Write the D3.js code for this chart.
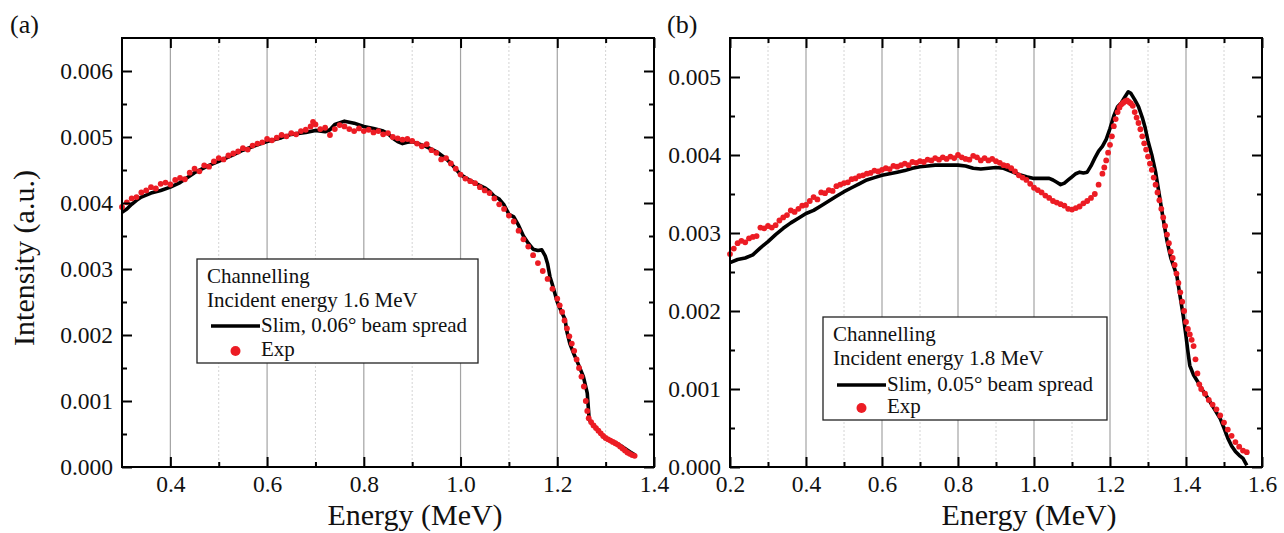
<!DOCTYPE html>
<html>
<head>
<meta charset="utf-8">
<script src="https://cdn.jsdelivr.net/npm/d3@7"></script>
<style>
    body { margin: 0; background: #fff; }
    #chart { width: 1284px; height: 533px; }
    svg text { font-family: "Liberation Serif", "Times New Roman", serif !important; fill: #111; }
</style>
</head>
<body>
<div id="chart"></div>
<script>

// ---- data: [energy (MeV), intensity (a.u.)] ----

// (a) Incident energy 1.6 MeV
const simA = [
    [0.30,0.00386],[0.31,0.00391],[0.32,0.00398],[0.33,0.00404],[0.34,0.00409],[0.36,0.00415],[0.38,0.00419],
    [0.40,0.00424],[0.42,0.00431],[0.45,0.00446],[0.48,0.00457],[0.50,0.00463],[0.53,0.00473],[0.55,0.00480],
    [0.58,0.00488],[0.60,0.00493],[0.63,0.00499],[0.65,0.00504],[0.68,0.00507],[0.70,0.00510],[0.72,0.00508],
    [0.73,0.00511],[0.74,0.00519],[0.76,0.00524],[0.78,0.00521],[0.80,0.00516],[0.82,0.00513],[0.84,0.00509],
    [0.85,0.00505],[0.86,0.00498],[0.87,0.00493],[0.88,0.00490],[0.89,0.00492],[0.90,0.00493],[0.92,0.00488],
    [0.93,0.00485],[0.95,0.00478],[0.97,0.00467],[0.98,0.00460],[1.00,0.00443],[1.02,0.00434],[1.03,0.00430],
    [1.05,0.00423],[1.06,0.00418],[1.07,0.00410],[1.08,0.00406],[1.09,0.00397],[1.10,0.00383],[1.11,0.00379],
    [1.12,0.00366],[1.13,0.00350],[1.14,0.00339],[1.15,0.00330],[1.16,0.00328],[1.168,0.00329],[1.175,0.00320],
    [1.18,0.00308],[1.185,0.00288],[1.19,0.00276],[1.20,0.00250],[1.21,0.00233],[1.216,0.00224],[1.22,0.00205],
    [1.226,0.00187],[1.235,0.00170],[1.24,0.00162],[1.254,0.00137],[1.262,0.00112],[1.266,0.00072],
    [1.272,0.00065],[1.278,0.00061],[1.29,0.00050],[1.30,0.00043],[1.31,0.00040],[1.32,0.00037],[1.33,0.00033],
    [1.34,0.00028],[1.35,0.00023],[1.361,0.00018]
];

const expA = [
    [0.30,0.00394],[0.31,0.00401],[0.32,0.00407],[0.33,0.00409],[0.34,0.00416],[0.35,0.00419],[0.36,0.00424],
    [0.37,0.00422],[0.38,0.00429],[0.39,0.00431],[0.40,0.00428],[0.41,0.00435],[0.42,0.00438],[0.43,0.00436],
    [0.44,0.00446],[0.45,0.00452],[0.46,0.00448],[0.47,0.00457],[0.48,0.00455],[0.49,0.00463],[0.50,0.00468],
    [0.51,0.00466],[0.52,0.00472],[0.53,0.00475],[0.54,0.00478],[0.55,0.00483],[0.56,0.00481],[0.57,0.00487],
    [0.58,0.00490],[0.59,0.00492],[0.60,0.00497],[0.61,0.00495],[0.62,0.00499],[0.63,0.00503],[0.64,0.00501],
    [0.65,0.00506],[0.66,0.00504],[0.67,0.00509],[0.68,0.00511],[0.69,0.00516],[0.695,0.00523],[0.70,0.00519],
    [0.71,0.00512],[0.72,0.00514],[0.73,0.00503],[0.74,0.00512],[0.75,0.00518],[0.76,0.00516],[0.77,0.00512],
    [0.78,0.00509],[0.79,0.00513],[0.80,0.00509],[0.81,0.00511],[0.82,0.00507],[0.83,0.00509],[0.84,0.00504],
    [0.85,0.00506],[0.86,0.00500],[0.87,0.00498],[0.88,0.00496],[0.89,0.00497],[0.90,0.00494],[0.91,0.00490],
    [0.92,0.00486],[0.93,0.00489],[0.94,0.00480],[0.95,0.00476],[0.96,0.00466],[0.97,0.00468],[0.98,0.00460],
    [0.99,0.00452],[1.00,0.00443],[1.01,0.00437],[1.02,0.00433],[1.03,0.00430],[1.04,0.00424],[1.05,0.00419],
    [1.06,0.00415],[1.07,0.00407],[1.08,0.00398],[1.09,0.00391],[1.10,0.00381],[1.11,0.00372],[1.12,0.00358],
    [1.13,0.00345],[1.14,0.00334],[1.15,0.00321],[1.16,0.00309],[1.17,0.00297],[1.18,0.00285],[1.19,0.00270],
    [1.20,0.00255],[1.205,0.00245],[1.21,0.00235],[1.215,0.00222],[1.22,0.00210],[1.225,0.00198],[1.23,0.00187],
    [1.235,0.00176],[1.24,0.00163],[1.245,0.00150],[1.25,0.00137],[1.255,0.00122],[1.259,0.00100],[1.262,0.00085],
    [1.265,0.00074],[1.27,0.00068],[1.275,0.00063],[1.28,0.00059],[1.285,0.00055],[1.29,0.00051],[1.295,0.00047],
    [1.30,0.00044],[1.305,0.00042],[1.31,0.00040],[1.315,0.00038],[1.32,0.00036],[1.325,0.00034],[1.33,0.00031],
    [1.335,0.00028],[1.34,0.00025],[1.345,0.00022],[1.35,0.00020],[1.355,0.00018],[1.36,0.00017]
];

// (b) Incident energy 1.8 MeV
const simB = [
    [0.20,0.00262],[0.22,0.00266],[0.24,0.00268],[0.26,0.00272],[0.28,0.00281],[0.30,0.00289],[0.32,0.00298],
    [0.34,0.00306],[0.36,0.00313],[0.38,0.00319],[0.40,0.00325],[0.42,0.00329],[0.44,0.00335],[0.46,0.00341],
    [0.48,0.00347],[0.50,0.00353],[0.52,0.00358],[0.54,0.00363],[0.56,0.00368],[0.58,0.00371],[0.60,0.00374],
    [0.62,0.00376],[0.64,0.00378],[0.66,0.00380],[0.68,0.00383],[0.70,0.00385],[0.72,0.00386],[0.74,0.00387],
    [0.76,0.00387],[0.78,0.00387],[0.80,0.00387],[0.82,0.00386],[0.84,0.00383],[0.86,0.00382],[0.88,0.00383],
    [0.90,0.00384],[0.92,0.00383],[0.94,0.00379],[0.96,0.00375],[0.98,0.00372],[1.00,0.00370],[1.02,0.00370],
    [1.04,0.00370],[1.05,0.00368],[1.06,0.00365],[1.07,0.00362],[1.08,0.00364],[1.09,0.00368],[1.10,0.00372],
    [1.11,0.00376],[1.12,0.00378],[1.13,0.00377],[1.14,0.00378],[1.15,0.00386],[1.16,0.00396],[1.17,0.00405],
    [1.18,0.00411],[1.19,0.00420],[1.20,0.00434],[1.21,0.00450],[1.22,0.00462],[1.23,0.00467],[1.24,0.00475],
    [1.248,0.00481],[1.255,0.00479],[1.265,0.00471],[1.275,0.00462],[1.285,0.00448],[1.292,0.00436],
    [1.30,0.00418],[1.31,0.00400],[1.32,0.00378],[1.33,0.00348],[1.34,0.00318],[1.35,0.00290],[1.36,0.00268],
    [1.37,0.00254],[1.376,0.00245],[1.386,0.00214],[1.393,0.00193],[1.40,0.00168],[1.405,0.00148],[1.41,0.00130],
    [1.42,0.00118],[1.43,0.00110],[1.44,0.00101],[1.455,0.00090],[1.47,0.00078],[1.48,0.00070],[1.49,0.00062],
    [1.50,0.00050],[1.51,0.00037],[1.52,0.00027],[1.53,0.00020],[1.54,0.00015],[1.55,0.00011],[1.56,0.00002]
];

const expB = [
    [0.20,0.00273],[0.21,0.00280],[0.22,0.00287],[0.23,0.00290],[0.24,0.00288],[0.25,0.00293],[0.26,0.00295],
    [0.27,0.00296],[0.28,0.00307],[0.29,0.00306],[0.30,0.00309],[0.31,0.00307],[0.32,0.00310],[0.33,0.00316],
    [0.34,0.00320],[0.35,0.00323],[0.36,0.00329],[0.37,0.00327],[0.38,0.00331],[0.39,0.00335],[0.40,0.00336],
    [0.41,0.00341],[0.42,0.00346],[0.43,0.00343],[0.44,0.00352],[0.45,0.00351],[0.46,0.00355],[0.47,0.00354],
    [0.48,0.00360],[0.49,0.00362],[0.50,0.00364],[0.51,0.00365],[0.52,0.00369],[0.53,0.00370],[0.54,0.00373],
    [0.55,0.00374],[0.56,0.00376],[0.57,0.00377],[0.58,0.00380],[0.59,0.00379],[0.60,0.00381],[0.61,0.00383],
    [0.62,0.00382],[0.63,0.00386],[0.64,0.00385],[0.65,0.00387],[0.66,0.00389],[0.67,0.00387],[0.68,0.00391],
    [0.69,0.00390],[0.70,0.00392],[0.71,0.00391],[0.72,0.00394],[0.73,0.00393],[0.74,0.00396],[0.75,0.00394],
    [0.76,0.00397],[0.77,0.00395],[0.78,0.00398],[0.79,0.00396],[0.80,0.00400],[0.81,0.00397],[0.82,0.00395],
    [0.83,0.00394],[0.84,0.00399],[0.85,0.00397],[0.86,0.00393],[0.87,0.00396],[0.88,0.00393],[0.89,0.00395],
    [0.90,0.00392],[0.91,0.00390],[0.92,0.00387],[0.93,0.00386],[0.94,0.00383],[0.95,0.00379],[0.96,0.00374],
    [0.97,0.00371],[0.98,0.00368],[0.99,0.00363],[1.00,0.00358],[1.01,0.00355],[1.02,0.00352],[1.03,0.00348],
    [1.04,0.00345],[1.05,0.00341],[1.06,0.00339],[1.07,0.00337],[1.08,0.00335],[1.09,0.00331],[1.10,0.00330],
    [1.11,0.00332],[1.12,0.00334],[1.13,0.00338],[1.14,0.00341],[1.15,0.00345],[1.16,0.00350],[1.17,0.00362],
    [1.18,0.00376],[1.185,0.00384],[1.19,0.00393],[1.195,0.00403],[1.20,0.00413],[1.205,0.00424],[1.21,0.00437],
    [1.215,0.00446],[1.22,0.00455],[1.225,0.00461],[1.23,0.00465],[1.235,0.00467],[1.24,0.00469],[1.245,0.00470],
    [1.25,0.00468],[1.255,0.00466],[1.26,0.00463],[1.265,0.00455],[1.27,0.00448],[1.275,0.00441],[1.28,0.00433],
    [1.285,0.00424],[1.29,0.00415],[1.295,0.00407],[1.30,0.00398],[1.305,0.00389],[1.31,0.00381],[1.315,0.00371],
    [1.32,0.00362],[1.325,0.00352],[1.33,0.00342],[1.335,0.00331],[1.34,0.00320],[1.345,0.00309],[1.35,0.00298],
    [1.355,0.00287],[1.36,0.00276],[1.365,0.00268],[1.37,0.00259],[1.375,0.00248],[1.38,0.00236],[1.385,0.00224],
    [1.39,0.00212],[1.395,0.00200],[1.40,0.00186],[1.405,0.00177],[1.41,0.00170],[1.415,0.00163],[1.42,0.00155],
    [1.425,0.00138],[1.43,0.00120],[1.435,0.00106],[1.44,0.00100],[1.45,0.00094],[1.46,0.00086],[1.47,0.00080],
    [1.48,0.00074],[1.49,0.00066],[1.50,0.00057],[1.51,0.00048],[1.52,0.00040],[1.53,0.00032],[1.54,0.00026],
    [1.55,0.00021],[1.56,0.00019]
];

// axis ticks
const xMajorA = [0.4, 0.6, 0.8, 1.0, 1.2, 1.4];
const xMinorA = [0.5, 0.7, 0.9, 1.1, 1.3];
const yMajorA = [0, 0.001, 0.002, 0.003, 0.004, 0.005, 0.006];
const yMinorA = [0.0005, 0.0015, 0.0025, 0.0035, 0.0045, 0.0055];

const xMajorB = [0.2, 0.4, 0.6, 0.8, 1.0, 1.2, 1.4, 1.6];
const xMinorB = [0.3, 0.5, 0.7, 0.9, 1.1, 1.3, 1.5];
const yMajorB = [0, 0.001, 0.002, 0.003, 0.004, 0.005];
const yMinorB = [0.0005, 0.0015, 0.0025, 0.0035, 0.0045];

// legend text
const legendA = ["Channelling", "Incident energy 1.6 MeV", "Slim, 0.06\u00b0 beam spread", "Exp"];
const legendB = ["Channelling", "Incident energy 1.8 MeV", "Slim, 0.05\u00b0 beam spread", "Exp"];

const SERIF = "'Liberation Serif', 'Times New Roman', serif";


class SpectrumPanel {
    constructor(svg, cfg) {
        this.svg = svg;
        this.cfg = cfg;
        this.initVis();
    }

    initVis() {
        let vis = this;
        let c = vis.cfg;

        vis.g = vis.svg.append("g").attr("class", "panel");

        vis.x = d3.scaleLinear().domain(c.xDomain).range([c.left, c.right]);
        vis.y = d3.scaleLinear().domain(c.yDomain).range([c.bottom, c.top]);

        vis.line = d3.line()
            .x(d => vis.x(d[0]))
            .y(d => vis.y(d[1]));

        vis.red = "#ec1c24";
        vis.updateVis();
    }

    updateVis() {
        let vis = this;
        let c = vis.cfg;
        let inside = v => v > c.xDomain[0] + 1e-9 && v < c.xDomain[1] - 1e-9;

        // vertical grid lines, solid on major ticks, dotted on minor
        vis.g.append("g").selectAll("line")
            .data(c.xMajor.filter(inside))
            .enter().append("line")
            .attr("x1", d => vis.x(d)).attr("x2", d => vis.x(d))
            .attr("y1", c.top).attr("y2", c.bottom)
            .attr("stroke", "#a3a3a3").attr("stroke-width", 1.2);

        vis.g.append("g").selectAll("line")
            .data(c.xMinor.filter(inside))
            .enter().append("line")
            .attr("x1", d => vis.x(d)).attr("x2", d => vis.x(d))
            .attr("y1", c.top).attr("y2", c.bottom)
            .attr("stroke", "#d4d4d4").attr("stroke-width", 1)
            .attr("stroke-dasharray", "2,2");

        // simulation curve
        vis.g.append("path")
            .datum(c.sim)
            .attr("d", vis.line)
            .attr("fill", "none")
            .attr("stroke", "#000")
            .attr("stroke-width", 3.6)
            .attr("stroke-linejoin", "round");

        // experimental points
        vis.g.append("g").selectAll("circle")
            .data(c.exp)
            .enter().append("circle")
            .attr("cx", d => vis.x(d[0]))
            .attr("cy", d => vis.y(d[1]))
            .attr("r", 2.9)
            .attr("fill", vis.red);

        // frame
        vis.g.append("rect")
            .attr("x", c.left).attr("y", c.top)
            .attr("width", c.right - c.left).attr("height", c.bottom - c.top)
            .attr("fill", "none").attr("stroke", "#000").attr("stroke-width", 2);

        // axes, ticks pointing inward on all four sides
        let fmtX = d3.format(".1f"), fmtY = d3.format(".3f");
        let addAxis = (axis, tx, ty) => {
            let a = vis.g.append("g")
                .attr("transform", `translate(${tx},${ty})`)
                .call(axis)
                .attr("font-family", SERIF);
            a.select(".domain").remove();
            a.selectAll("line").attr("stroke", "#000").attr("stroke-width", 2);
            a.selectAll("text")
                .attr("font-family", SERIF)
                .style("font-size", "23.5px")
                .attr("fill", "#111");
            return a;
        };

        addAxis(d3.axisBottom(vis.x).tickValues(c.xMajor).tickFormat(fmtX)
            .tickSizeInner(-10).tickSizeOuter(0).tickPadding(8), 0, c.bottom);
        addAxis(d3.axisBottom(vis.x).tickValues(c.xMinor).tickFormat("")
            .tickSizeInner(-5).tickSizeOuter(0), 0, c.bottom);
        addAxis(d3.axisTop(vis.x).tickValues(c.xMajor).tickFormat("")
            .tickSizeInner(-10).tickSizeOuter(0), 0, c.top);
        addAxis(d3.axisTop(vis.x).tickValues(c.xMinor).tickFormat("")
            .tickSizeInner(-5).tickSizeOuter(0), 0, c.top);

        addAxis(d3.axisLeft(vis.y).tickValues(c.yMajor).tickFormat(fmtY)
            .tickSizeInner(-10).tickSizeOuter(0).tickPadding(9), c.left, 0);
        addAxis(d3.axisLeft(vis.y).tickValues(c.yMinor).tickFormat("")
            .tickSizeInner(-5).tickSizeOuter(0), c.left, 0);
        addAxis(d3.axisRight(vis.y).tickValues(c.yMajor).tickFormat("")
            .tickSizeInner(-10).tickSizeOuter(0), c.right, 0);
        addAxis(d3.axisRight(vis.y).tickValues(c.yMinor).tickFormat("")
            .tickSizeInner(-5).tickSizeOuter(0), c.right, 0);

        // axis title and panel letter
        vis.g.append("text")
            .text("Energy (MeV)")
            .attr("x", c.titleX).attr("y", 525)
            .attr("text-anchor", "middle")
            .style("font-size", "30px");

        vis.g.append("text")
            .text(c.letter)
            .attr("x", c.letterX).attr("y", 33)
            .style("font-size", "26px");

        // legend
        let L = c.legend;
        let leg = vis.g.append("g").attr("transform", `translate(${L.x},${L.y})`);
        leg.append("rect")
            .attr("width", L.w).attr("height", L.h)
            .attr("fill", "#fff").attr("stroke", "#222").attr("stroke-width", 1.3);
        leg.append("text").text(c.legendText[0])
            .attr("x", 10).attr("y", L.rows[0]).style("font-size", "21px");
        leg.append("text").text(c.legendText[1])
            .attr("x", 10).attr("y", L.rows[1]).style("font-size", "21px");
        leg.append("line")
            .attr("x1", L.lineX[0]).attr("x2", L.lineX[1])
            .attr("y1", L.rows[2] - 6).attr("y2", L.rows[2] - 6)
            .attr("stroke", "#000").attr("stroke-width", 3.6);
        leg.append("text").text(c.legendText[2])
            .attr("x", L.lineX[1] + 1).attr("y", L.rows[2]).style("font-size", "21px");
        leg.append("circle")
            .attr("cx", (L.lineX[0] + L.lineX[1]) / 2).attr("cy", L.rows[3] - 5)
            .attr("r", 5).attr("fill", vis.red);
        leg.append("text").text(c.legendText[3])
            .attr("x", L.lineX[1] + 1).attr("y", L.rows[3]).style("font-size", "21px");
    }
}


let svg = d3.select("#chart").append("svg")
    .attr("width", 1284)
    .attr("height", 533)
    .attr("font-family", SERIF);

new SpectrumPanel(svg, {
    left: 122, right: 654, top: 38, bottom: 467,
    xDomain: [0.3, 1.4], yDomain: [0, 0.0065],
    xMajor: xMajorA, xMinor: xMinorA, yMajor: yMajorA, yMinor: yMinorA,
    sim: simA, exp: expA,
    letter: "(a)", letterX: 10, titleX: 415,
    legendText: legendA,
    legend: {x: 197, y: 259, w: 281, h: 104, rows: [24, 48, 73, 97], lineX: [14, 63]}
});

new SpectrumPanel(svg, {
    left: 730, right: 1262, top: 38, bottom: 467,
    xDomain: [0.2, 1.6], yDomain: [0, 0.0055],
    xMajor: xMajorB, xMinor: xMinorB, yMajor: yMajorB, yMinor: yMinorB,
    sim: simB, exp: expB,
    letter: "(b)", letterX: 667, titleX: 1029,
    legendText: legendB,
    legend: {x: 823, y: 317, w: 284, h: 103, rows: [24, 48, 74, 96], lineX: [14, 63]}
});

// y title on the left panel
svg.append("text")
    .text("Intensity (a.u.)")
    .attr("transform", "translate(34,258) rotate(-90)")
    .attr("text-anchor", "middle")
    .style("font-size", "30px");

</script>
</body>
</html>
